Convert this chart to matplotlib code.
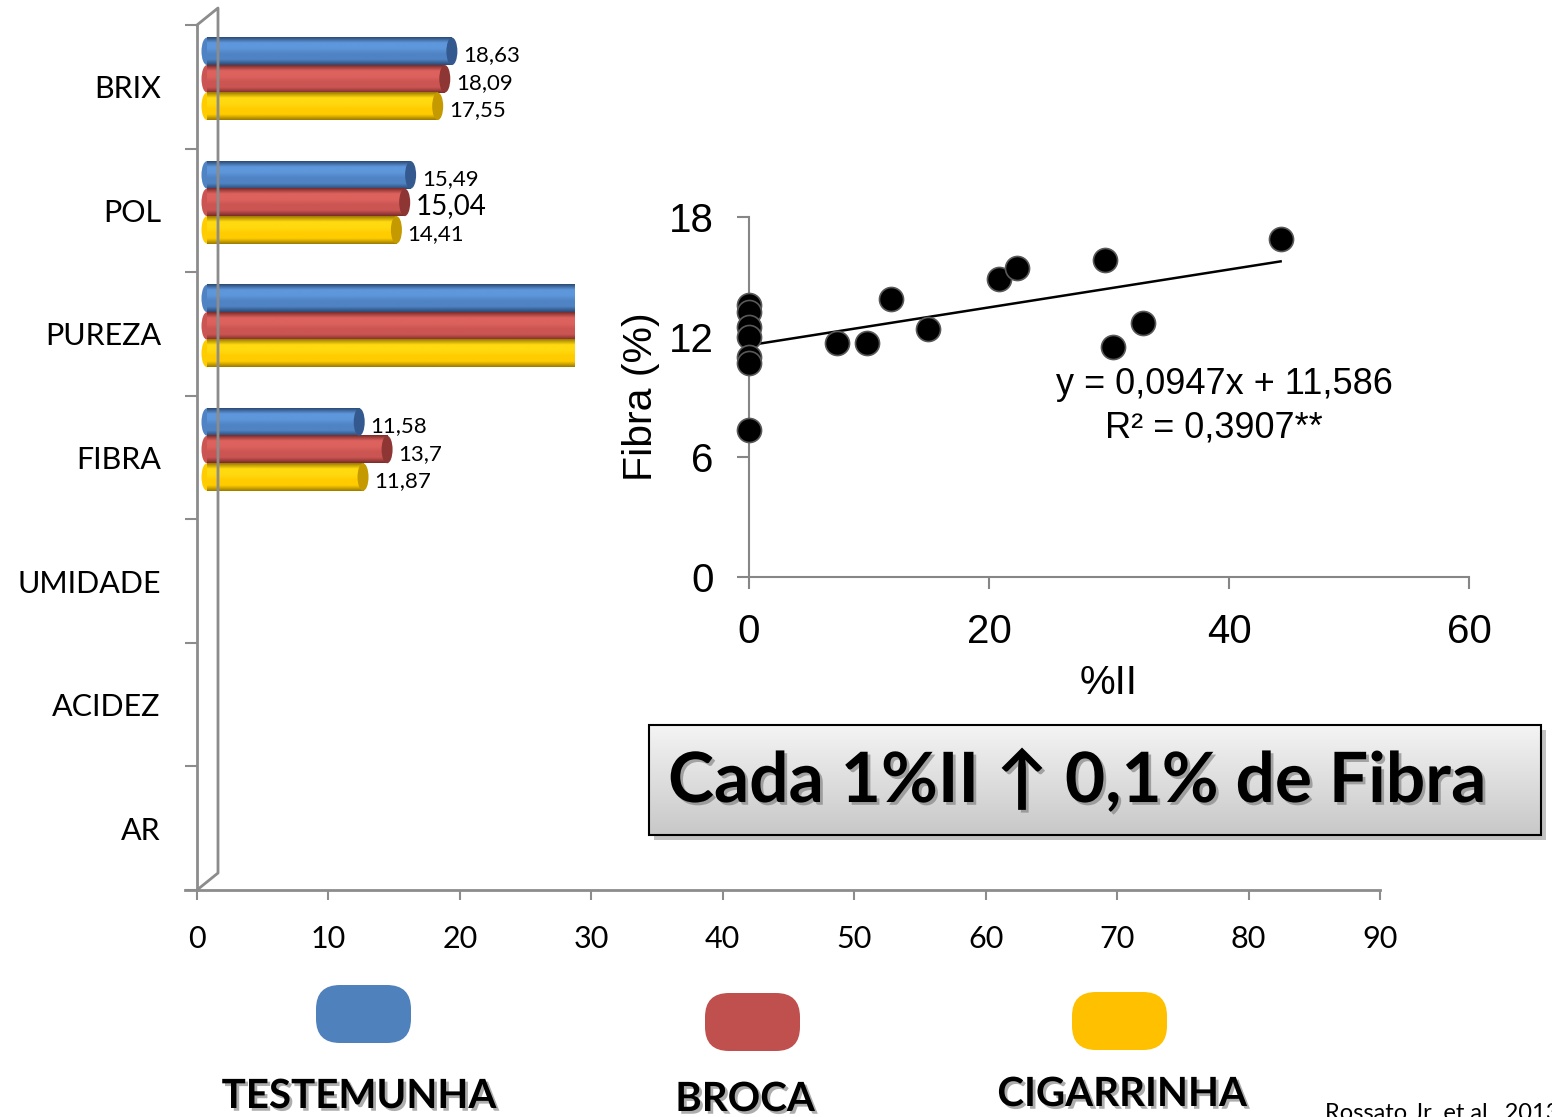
import numpy as np
import matplotlib.pyplot as plt
import matplotlib.patheffects as pe
from matplotlib.colors import LinearSegmentedColormap
from matplotlib.patches import Ellipse, FancyBboxPatch, Rectangle
from matplotlib.transforms import ScaledTranslation

# bar chart data (PUREZA bars run under the inset, UMIDADE/ACIDEZ/AR are empty)
categories = ['BRIX', 'POL', 'PUREZA', 'FIBRA', 'UMIDADE', 'ACIDEZ', 'AR']
testemunha = [18.63, 15.49, 83.9, 11.58, np.nan, np.nan, np.nan]
broca = [18.09, 15.04, 83.5, 13.70, np.nan, np.nan, np.nan]
cigarrinha = [17.55, 14.41, 83.1, 11.87, np.nan, np.nan, np.nan]
series_names = ['TESTEMUNHA', 'BROCA', 'CIGARRINHA']
x_ticks = [0, 10, 20, 30, 40, 50, 60, 70, 80, 90]

# scatter inset data: %II vs Fibra
ii_pct = [0, 0, 0, 0, 0, 0, 0, 7.3, 9.8, 11.8, 14.9, 20.8, 22.3, 29.7, 30.3, 32.8, 44.3]
fibra = [13.6, 13.25, 12.5, 12.0, 11.0, 10.7, 7.35, 11.7, 11.7, 13.9, 12.4, 14.9, 15.45, 15.85, 11.5, 12.7, 16.9]
slope, intercept = 0.0947, 11.586

W, H = 1552, 1117
fig = plt.figure(figsize=(W / 100, H / 100), dpi=100)
calibri = ['Lato', 'DejaVu Sans']
arial = ['Liberation Sans', 'DejaVu Sans']
gray = '#8C8C8C'

# ---- 3D-like horizontal cylinder bars ----
ax = fig.add_axes([197 / W, 1 - 890 / H, 1183 / W, 865 / H], zorder=1)
off = ax.transData + ScaledTranslation(0.10, 0.08, fig.dpi_scale_trans)
bh = 27.5 / 123.6
cap_w = 11 / 13.14

styles = [
    ('#2B4A75', '#5E97DB', '#4F83C4', '#34598F', '#4F81BD'),
    ('#7A2C2A', '#DD625E', '#CB5552', '#8E3634', '#C0504D'),
    ('#9C7A00', '#FFDA10', '#FFCC00', '#C49A00', '#FFC000'),
]
big_labels = {(1, 1), (2, 1)}
grad = np.linspace(0, 1, 100).reshape(-1, 1)

for i, vals in enumerate([testemunha, broca, cigarrinha]):
    dark, light, base, capc, _ = styles[i]
    cmap = LinearSegmentedColormap.from_list('c%d' % i, [dark, light, light, base, base, dark])
    for j, v in enumerate(vals):
        if np.isnan(v):
            continue
        yc = j + (i - 1) * bh
        ax.add_patch(Ellipse((0, yc), cap_w, bh, transform=off, facecolor=base, edgecolor='none', zorder=1.5))
        im = ax.imshow(grad, cmap=cmap, aspect='auto', extent=(0, v, yc + bh / 2, yc - bh / 2),
                       interpolation='bilinear', zorder=2)
        im.set_transform(off)
        ax.add_patch(Ellipse((v, yc), cap_w, bh, transform=off, facecolor=capc, edgecolor='none', zorder=3))
        lab = ('%g' % v).replace('.', ',')
        ax.annotate(lab, xy=(v, yc), xycoords=off, xytext=(8, -3), textcoords='offset points',
                    ha='left', va='center', family=calibri,
                    fontsize=20 if (j, i) in big_labels else 16)

ax.set_xlim(0, 90)
ax.set_ylim(6.5, -0.5)
for s in ['top', 'right']:
    ax.spines[s].set_visible(False)
for s in ['left', 'bottom']:
    ax.spines[s].set_color(gray)
    ax.spines[s].set_linewidth(2)
ax.set_xticks(x_ticks)
ax.set_xticklabels([str(t) for t in x_ticks], family=calibri, fontsize=22)
ax.tick_params(axis='x', direction='out', length=7, width=1.5, color=gray, pad=18)
ax.set_yticks(range(len(categories)))
ax.set_yticklabels(categories, family=calibri, fontsize=22)
ax.tick_params(axis='y', which='major', length=0, pad=26)
ax.set_yticks(np.arange(-0.5, len(categories)), minor=True)
ax.tick_params(axis='y', which='minor', direction='out', length=8.6, width=1.5, color=gray)

# white backdrop of the pasted inset
fig.add_artist(Rectangle((575 / W, 1 - 715 / H), (W - 575) / W, 565 / H,
                         transform=fig.transFigure, facecolor='white', edgecolor='none', zorder=2))

# ---- scatter inset ----
sc = fig.add_axes([749 / W, 1 - 577 / H, 720 / W, 360 / H], zorder=3)
sc.scatter(ii_pct, fibra, s=300, c='black', edgecolors='#595959', linewidths=1.2, clip_on=False, zorder=3)
xl = np.array([0, max(ii_pct)])
sc.plot(xl, slope * xl + intercept, color='black', lw=1.8, zorder=2)
sc.set_xlim(0, 60)
sc.set_ylim(0, 18)
sc.set_xticks([0, 20, 40, 60])
sc.set_yticks([0, 6, 12, 18])
for s in ['top', 'right']:
    sc.spines[s].set_visible(False)
for s in ['left', 'bottom']:
    sc.spines[s].set_color('#868686')
    sc.spines[s].set_linewidth(1.5)
sc.tick_params(direction='out', length=8.6, width=1.5, color='#868686', labelsize=29, pad=17)
for t in sc.get_xticklabels() + sc.get_yticklabels():
    t.set_family(arial)
sc.set_xlabel('%II', family=arial, fontsize=29, labelpad=10)
sc.set_ylabel('Fibra (%)', family=arial, fontsize=29.5, labelpad=6)
sc.text(39.6, 9.6, 'y = 0,0947x + 11,586', family=arial, fontsize=26, ha='center', va='center')
sc.text(38.75, 7.45, 'R² = 0,3907**', family=arial, fontsize=26, ha='center', va='center')

# ---- overlay in pixel coordinates ----
ov = fig.add_axes([0, 0, 1, 1], zorder=4)
ov.set_xlim(0, W)
ov.set_ylim(H, 0)
ov.axis('off')

# 3D wall of the bar chart
ov.plot([197, 218, 218, 197], [25, 8, 873, 890], color=gray, lw=2)
ov.plot([185, 197], [890, 890], color=gray, lw=2)

# text box
ov.add_patch(Rectangle((654, 730), 892, 110, facecolor='#9a9a9a', edgecolor='none', alpha=0.6))
box = Rectangle((649, 725), 892, 110, facecolor='none', edgecolor='black', lw=1.5, zorder=3)
bg = ov.imshow(np.linspace(0, 1, 100).reshape(-1, 1),
               cmap=LinearSegmentedColormap.from_list('g', ['#F4F4F4', '#C8C8C8']),
               extent=(649, 1541, 835, 725), aspect='auto', zorder=2)
ov.add_patch(box)
bg.set_clip_path(box)
shadow = [pe.SimplePatchShadow(offset=(2, -2), shadow_rgbFace='#777777', alpha=0.6), pe.Normal()]
ov.text(668, 782, 'Cada 1%II ↑ 0,1% de Fibra', family=calibri, fontsize=50, fontweight='bold',
        ha='left', va='center', zorder=4, path_effects=shadow)

# legend
leg_pos = [(316, 985), (705, 993), (1072, 992)]
leg_txt = [(359, 1078), (745, 1081), (1122, 1076)]
for k, name in enumerate(series_names):
    x0, y0 = leg_pos[k]
    ov.add_patch(FancyBboxPatch((x0, y0), 95, 58, boxstyle='round,pad=0,rounding_size=24',
                                facecolor=styles[k][4], edgecolor='none'))
    ov.text(leg_txt[k][0], leg_txt[k][1], name, family=calibri, fontsize=29, fontweight='bold',
            ha='center', va='top', path_effects=shadow)

ov.text(1325, 1103, 'Rossato Jr. et al., 2013', family=calibri, fontsize=17, ha='left', va='top')
ov.set_xlim(0, W)
ov.set_ylim(H, 0)

fig.savefig('out.png', dpi=100)
